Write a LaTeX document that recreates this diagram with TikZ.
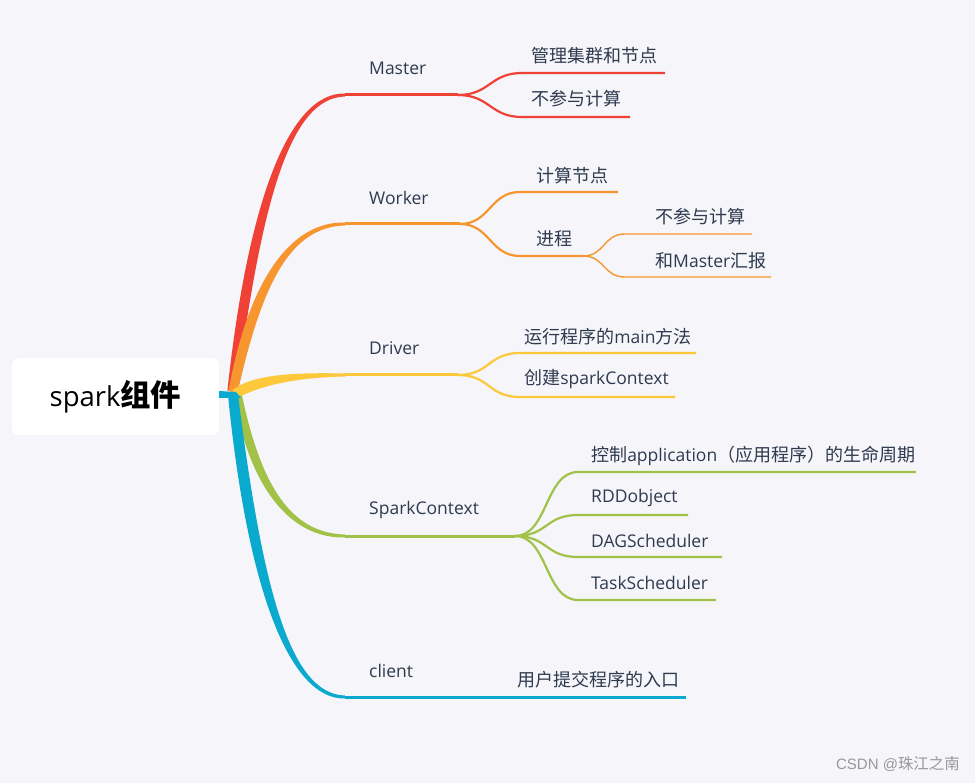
\documentclass[tikz,border=0pt]{standalone}
\usepackage{fontspec}
\setmainfont{Open Sans}
\newfontfamily\zhf[Scale=1.03]{Noto Sans CJK SC}
\newfontfamily\wmf{Liberation Sans}
\newcommand\zh[1]{{\zhf #1}}
\usetikzlibrary{calc}
\definecolor{bg}{HTML}{F5F5FA}
\definecolor{txt}{HTML}{2F3A4E}
\definecolor{cred}{HTML}{EF4136}
\definecolor{corange}{HTML}{F7952F}
\definecolor{cyellow}{HTML}{FDC83A}
\definecolor{cgreen}{HTML}{A2C147}
\definecolor{cblue}{HTML}{0AAACE}
\newcommand\mmbranch[4]{%
  \coordinate (s) at #2;
  \coordinate (c1) at (255,{#3+(392-#3)*0.35});
  \coordinate (c2) at (290,#3);
  \coordinate (e) at (345,#3);
  \path ($(s)!#4!90:(c1)$) coordinate (sa) ($(s)!#4!-90:(c1)$) coordinate (sb);
  \fill[#1] (sa) .. controls ($(c1)+1.5*(sa)-1.5*(s)$) and ($(c2)+(0,-2.8)$) .. ($(e)+(0,-1.5)$)
     -- ($(e)+(0,1.5)$) .. controls ($(c2)+(0,2.8)$) and ($(c1)+1.5*(sb)-1.5*(s)$) .. (sb) -- cycle;
}
\tikzset{
  lbl/.style={anchor=west, text=txt, inner sep=0pt, font=\fontsize{17.5}{20}\selectfont},
  main/.style={line width=3pt},
  sub/.style={line width=2.2pt},
  subsub/.style={line width=1.4pt},
}
\begin{document}
\begin{tikzpicture}[x=1pt,y=-1pt]
\fill[bg] (0,0) rectangle (975,783);
\useasboundingbox (0,0) rectangle (975,783);
% root
\node[fill=white, rounded corners=7pt, minimum width=207pt, minimum height=77pt, inner sep=0pt,
  text=black] (root) at (115.5,396.5) {\fontsize{27.5}{30}\selectfont spark{\zhf\fontsize{29.5}{30}\selectfont\bfseries 组件}};
% tapered branches
\mmbranch{cred}{(232,391)}{95}{4.6pt}
\coordinate (eM) at (345,95);
\mmbranch{corange}{(233,392)}{224}{4.6pt}
\coordinate (eW) at (345,224);
\mmbranch{cyellow}{(235,394)}{375}{4.6pt}
\coordinate (eD) at (345,375);
\mmbranch{cgreen}{(238,396)}{536}{4pt}
\coordinate (eS) at (345,536);
\fill[cblue] (219,391) -- (236,392) -- (241,398) -- (219,398) -- cycle;
\mmbranch{cblue}{(233,395)}{697}{5pt}
\coordinate (eC) at (345,697);

% Master
\coordinate (jM) at (458,95);
\draw[cred, main] (eM) -- (jM);
\coordinate (m1a) at (522,73); \coordinate (m1b) at (665,73);
\coordinate (m2a) at (522,117); \coordinate (m2b) at (630,117);
\draw[cred, sub] (jM) .. controls +(32,0) and +(-32,0) .. (m1a) -- (m1b);
\draw[cred, sub] (jM) .. controls +(32,0) and +(-32,0) .. (m2a) -- (m2b);
\node[lbl] (tM) at (369,68) {Master};
\node[lbl] (tM1) at (531,56) {\zh{管理集群和节点}};
\node[lbl] (tM2) at (531,99) {\zh{不参与计算}};

% Worker
\coordinate (jW) at (460,224);
\draw[corange, main] (eW) -- (jW);
\coordinate (w1a) at (520,192); \coordinate (w1b) at (618,192);
\coordinate (w2a) at (520,256); \coordinate (w2b) at (583,256);
\draw[corange, sub] (jW) .. controls +(30,0) and +(-30,0) .. (w1a) -- (w1b);
\draw[corange, sub] (jW) .. controls +(30,0) and +(-30,0) .. (w2a) -- (w2b);
\coordinate (w3a) at (625,234); \coordinate (w3b) at (752,234);
\coordinate (w4a) at (625,277); \coordinate (w4b) at (771,277);
\draw[corange, subsub] (w2b) .. controls +(22,0) and +(-22,0) .. (w3a) -- (w3b);
\draw[corange, subsub] (w2b) .. controls +(22,0) and +(-22,0) .. (w4a) -- (w4b);
\node[lbl] (tW) at (369,198) {Worker};
\node[lbl] (tW1) at (536,176) {\zh{计算节点}};
\node[lbl] (tW2) at (536,239) {\zh{进程}};
\node[lbl] (tW3) at (655,217) {\zh{不参与计算}};
\node[lbl] (tW4) at (655,261) {\zh{和}Master\zh{汇报}};

% Driver
\coordinate (jD) at (458,375);
\draw[cyellow, main] (eD) -- (jD);
\coordinate (d1a) at (520,353); \coordinate (d1b) at (696,353);
\coordinate (d2a) at (520,397); \coordinate (d2b) at (675,397);
\draw[cyellow, sub] (jD) .. controls +(32,0) and +(-32,0) .. (d1a) -- (d1b);
\draw[cyellow, sub] (jD) .. controls +(32,0) and +(-32,0) .. (d2a) -- (d2b);
\node[lbl] (tD) at (369,348) {Driver};
\node[lbl] (tD1) at (524,337) {\zh{运行程序的}main\zh{方法}};
\node[lbl] (tD2) at (524,379) {\zh{创建}sparkContext};

% SparkContext
\coordinate (jS) at (515,536);
\draw[cgreen, main] (eS) -- (jS);
\coordinate (s1a) at (578,472); \coordinate (s1b) at (916,472);
\coordinate (s2a) at (578,515); \coordinate (s2b) at (688,515);
\coordinate (s3a) at (578,557); \coordinate (s3b) at (722,557);
\coordinate (s4a) at (578,600); \coordinate (s4b) at (716,600);
\foreach \k in {1,2,3,4}{
  \draw[cgreen, sub] (jS) .. controls +(33,0) and +(-33,0) .. (s\k a) -- (s\k b);
}
\node[lbl] (tS) at (369,510) {SparkContext};
\node[lbl] (tS1) at (591,456) {\zh{控制}application\zh{（应用程序）的生命周期}};
\node[lbl] (tS2) at (591,498) {RDDobject};
\node[lbl] (tS3) at (591,541) {DAGScheduler};
\node[lbl] (tS4) at (591,583) {TaskScheduler};

% client
\coordinate (cEnd) at (686,697);
\draw[cblue, main] (eC) -- (cEnd);
\node[lbl] (tC) at (369,671) {client};
\node[lbl] (tC1) at (517,680) {\zh{用户提交程序的入口}};

% watermark
\node[anchor=east, text=black!40, inner sep=0pt, font=\fontsize{15}{18}\selectfont] (wm) at (960,764) {\wmf CSDN @\zh{珠江之南}};
\end{tikzpicture}
\end{document}
